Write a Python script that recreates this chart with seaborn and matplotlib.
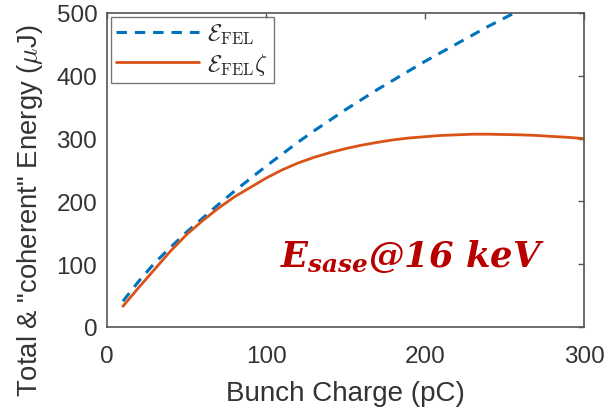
import numpy as np
import pandas as pd
import matplotlib
matplotlib.use("Agg")
import matplotlib.pyplot as plt
from matplotlib.font_manager import FontProperties
import seaborn as sns

# Bunch charge (pC) and pulse energies (uJ)
charge = [10, 20, 30, 40, 50, 60, 70, 80, 90, 100, 110, 120, 130, 140, 150,
          160, 170, 180, 190, 200, 210, 220, 230, 240, 250, 260, 270, 280,
          290, 300]
e_fel = [41, 73, 102, 127, 151, 173, 195, 216, 236, 256, 275, 294, 312, 329,
         346, 362, 378, 393, 408, 423, 437, 451, 465, 479, 492, 505,
         np.nan, np.nan, np.nan, np.nan]
e_coh = [33, 63, 92, 121, 147, 169, 189, 207, 222, 237, 250, 261, 270, 277.5,
         284, 289.5, 294, 298, 301, 303, 305, 306, 307, 307, 306.5, 306,
         305, 303.5, 302, 300]

x_ticks = [0, 100, 200, 300]
y_ticks = [0, 100, 200, 300, 400, 500]

sns.set_theme(style="white")
plt.rcParams["font.family"] = ["Liberation Sans", "DejaVu Sans"]
plt.rcParams["mathtext.fontset"] = "cm"
plt.rcParams["mathtext.it"] = "DejaVu Serif:italic:bold"
plt.rcParams["mathtext.rm"] = "DejaVu Serif:bold"
plt.rcParams["mathtext.bf"] = "DejaVu Serif:bold"

df = pd.DataFrame({"charge": charge, "fel": e_fel, "coh": e_coh})

fig = plt.figure(figsize=(6.09, 4.10), dpi=100)
ax = fig.add_axes([107 / 609, 1 - 328 / 410, (584 - 107) / 609, (328 - 14) / 410])

blue = "#0072BD"
orange = "#D95319"
axis_col = "#555555"
text_col = "#333333"

sns.lineplot(data=df, x="charge", y="fel", ax=ax, color=blue, lw=2.2,
             linestyle=(0, (3.4, 2.6)), label=r"$\mathcal{E}_{\mathrm{FEL}}$")
sns.lineplot(data=df, x="charge", y="coh", ax=ax, color=orange, lw=2.0,
             label=r"$\mathcal{E}_{\mathrm{FEL}}\zeta$")

ax.set_xlim(0, 300)
ax.set_ylim(0, 500)
ax.set_xticks(x_ticks)
ax.set_yticks(y_ticks)
ax.tick_params(axis="both", direction="in", length=4, width=1, color=axis_col,
               labelsize=17.5, labelcolor=text_col, top=True, right=True)
ax.tick_params(axis="y", pad=7)
ax.tick_params(axis="x", pad=13)
for s in ax.spines.values():
    s.set_color(axis_col)
    s.set_linewidth(1.2)

ax.set_xlabel("Bunch Charge (pC)", fontsize=20, color=text_col)
ax.set_ylabel(r'Total & "coherent" Energy ($\mu$J)', fontsize=19.8,
              color=text_col)
ax.xaxis.set_label_coords(0.5, -0.168)
ax.yaxis.set_label_coords(-0.131, 0.372)

leg = ax.legend(loc="upper left", fontsize=17, frameon=True, fancybox=False,
                borderaxespad=0.15, handlelength=3.5, handletextpad=0.35,
                borderpad=0.25, labelspacing=0.2)
for t in leg.get_texts():
    t.set_fontproperties(FontProperties(size=17, math_fontfamily="cm"))
leg.get_frame().set_edgecolor(axis_col)
leg.get_frame().set_linewidth(1.0)

ax.text(0.363, 0.195, r"$E_{sase}$@16 keV", transform=ax.transAxes,
        fontsize=25.5, color="#B80000", fontweight="bold", fontstyle="italic",
        family="DejaVu Serif", math_fontfamily="custom")

fig.savefig("out.png", dpi=100)
